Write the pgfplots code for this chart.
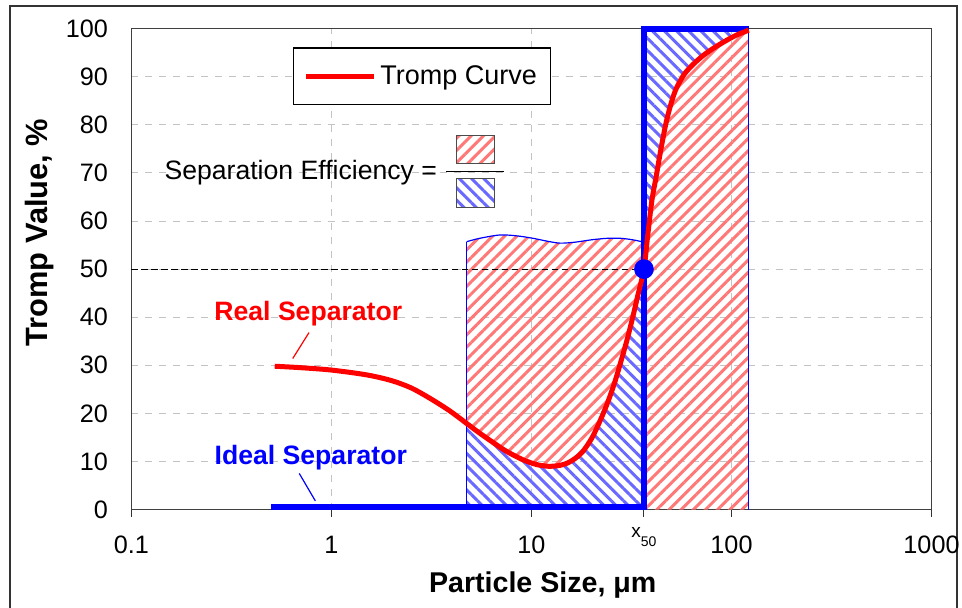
\documentclass[border=0pt]{standalone}
\usepackage{pgfplots}
\pgfplotsset{compat=1.18}
\usepackage{fontspec}
\setmainfont{Liberation Sans}
\usetikzlibrary{patterns.meta}
\definecolor{hatchred}{RGB}{255,120,120}
\definecolor{hatchblue}{RGB}{105,105,255}
\definecolor{gridgray}{RGB}{195,195,195}
\tikzset{
  redhatch/.style={pattern={Lines[angle=45,distance=4.3pt,line width=1.5pt]},pattern color=hatchred},
  bluehatch/.style={pattern={Lines[angle=-45,distance=4.3pt,line width=1.5pt]},pattern color=hatchblue},
}
\begin{document}
\begin{tikzpicture}
\useasboundingbox (0,0) rectangle (481pt,303.5pt);
\draw[line width=0.6pt, black!80] (5pt,-1pt) -- (5pt,300.5pt) -- (478.5pt,300.5pt) -- (478.5pt,-1pt);
\begin{axis}[
  at={(65.75pt,48.75pt)}, anchor=south west,
  scale only axis, width=400pt, height=240.4pt,
  xmode=log, log basis x=10,
  xmin=0.1, xmax=1000, ymin=0, ymax=100,
  clip=false,
  xtick={0.1,1,10,100,1000},
  xticklabels={0.1,1,10,100,1000},
  extra x ticks={36.5}, extra x tick labels={},
  ytick={0,10,...,100},
  xminorticks=false,
  grid=major,
  major grid style={gridgray, dash pattern=on 3.5pt off 3.5pt, line width=0.5pt},
  extra x tick style={grid=none},
  tick align=outside,
  major tick length=3.5pt,
  xtick pos=bottom, ytick pos=left,
  xtick style={black!80, line width=0.5pt},
  ytick style={draw=none},
  axis line style={black!75, line width=0.6pt},
  /pgf/number format/assume math mode=true,
  tick label style={font=\fontsize{12.6}{14}\selectfont},
  yticklabel style={xshift=-4.8pt},
  xticklabel style={yshift=-6.3pt},
  xlabel={Particle Size, μm},
  ylabel={Tromp Value, \%},
  xlabel style={at={(axis description cs:0.514,-0.1716)}, anchor=base, font=\fontsize{14.3}{16}\selectfont\bfseries},
  ylabel style={at={(axis description cs:-0.1044,0.576)}, anchor=base, font=\fontsize{15.4}{17}\selectfont\bfseries},
  legend style={at={(rel axis cs:0.2015,0.9613)}, anchor=north west, draw=black, line width=0.6pt,
    font=\fontsize{13.5}{16}\selectfont, inner xsep=5pt, inner ysep=6.75pt},
  legend image code/.code={\path (0pt,0pt) -- (34pt,0pt); \draw[red, line width=2.5pt] (3pt,0pt) -- (31.5pt,0pt);},
]
% hatched areas
\addplot[draw=none, redhatch, forget plot] coordinates {
  (4.74,55.7) (5.5,56.4) (6.96,57.1) (8.5,56.9) (10.2,56.4) (12,55.8) (13.9,55.4) (16.5,55.6) (20,56.1) (23.8,56.4) (28,56.4) (32,56.1) (35.6,55.7) (36.5,55.5)
  (36.5,50) (34,44.5) (32,39.8) (30,35.2) (28,30.8) (26,26.3) (24,22.2) (22,18.4) (20,14.8) (18,12.0) (16.5,10.6) (15,9.6) (13.5,9.1) (12,9.0) (10.5,9.4) (9,10.4) (7.5,12.1) (6.5,13.8) (5.5,15.9) (4.74,17.9)
} -- cycle;
\addplot[draw=none, bluehatch, forget plot] coordinates {
  (4.74,0) (4.74,17.9) (5.5,15.9) (6.5,13.8) (7.5,12.1) (9,10.4) (10.5,9.4) (12,9.0) (13.5,9.1) (15,9.6) (16.5,10.6) (18,12.0) (20,14.8) (22,18.4) (24,22.2) (26,26.3) (28,30.8) (30,35.2) (32,39.8) (34,44.5) (36.5,50) (36.5,0)
} -- cycle;
\addplot[draw=none, redhatch, forget plot] coordinates {
  (36.5,0) (36.5,50) (38,56.5) (40,64.3) (42,69.2) (44,74.1) (47,80.3) (50,84.6) (53,87.6) (58,90.5) (64,92.5) (72,94.4) (81,95.9) (92,97.3) (105,98.6) (122,99.7) (122,0)
} -- cycle;
\addplot[draw=none, bluehatch, forget plot] coordinates {
  (36.5,50) (38,56.5) (40,64.3) (42,69.2) (44,74.1) (47,80.3) (50,84.6) (53,87.6) (58,90.5) (64,92.5) (72,94.4) (81,95.9) (92,97.3) (105,98.6) (122,99.7) (122,100) (36.5,100)
} -- cycle;
% thin outlines
\addplot[blue, line width=0.6pt, smooth, forget plot] coordinates {
  (4.74,55.7) (5.5,56.4) (6.96,57.1) (8.5,56.9) (10.2,56.4) (12,55.8) (13.9,55.4) (16.5,55.6) (20,56.1) (23.8,56.4) (28,56.4) (32,56.1) (35.6,55.7) (36.5,55.5)
};
\addplot[blue, line width=0.6pt, forget plot] coordinates {(4.74,0) (4.74,55.7)};
\addplot[blue, line width=0.6pt, forget plot] coordinates {(122,0) (122,100)};
% dashed x50 guide
\addplot[black, line width=0.5pt, dash pattern=on 3.3pt off 1.7pt, forget plot] coordinates {(0.1,50) (36.5,50)};
% ideal separator
\addplot[blue, line width=3pt, line join=miter, forget plot] coordinates {(0.5,0.5) (36.5,0.5) (36.5,100) (122,100)};
% tromp curve
\addplot[red, line width=2.5pt, smooth] coordinates {
  (0.52,29.8) (0.7,29.5) (1,29.0) (1.5,28.0) (2,26.8) (2.5,25.3) (3,23.5) (3.5,21.8) (4,20.2) (4.74,17.9)
  (5.5,15.9) (6.5,13.8) (7.5,12.1) (9,10.4) (10.5,9.4) (12,9.0) (13.5,9.1) (15,9.6) (16.5,10.6) (18,12.0) (20,14.8) (22,18.4) (24,22.2) (26,26.3) (28,30.8) (30,35.2) (32,39.8) (34,44.5) (36.5,50)
  (38,56.5) (40,64.3) (42,69.2) (44,74.1) (47,80.3) (50,84.6) (53,87.6) (58,90.5) (64,92.5) (72,94.4) (81,95.9) (92,97.3) (105,98.6) (122,99.7)
};
\addlegendentry{Tromp Curve}
% x50 point
\addplot[only marks, mark=*, mark size=4.7pt, blue, forget plot] coordinates {(36.5,50)};
% annotations
\node[anchor=base, font=\fontsize{13.3}{16}\selectfont\bfseries, text=red, inner sep=0pt] at (axis cs:0.766,39.27) {Real Separator};
\node[anchor=base, font=\fontsize{13.3}{16}\selectfont\bfseries, text=blue, inner sep=0pt] at (axis cs:0.788,9.26) {Ideal Separator};
\draw[red, line width=0.6pt] (axis cs:0.772,36.8) -- (axis cs:0.64,31.4);
\draw[blue, line width=0.6pt] (axis cs:0.69,7.5) -- (axis cs:0.83,1.8);
\node[anchor=base, inner sep=0pt, font=\fontsize{9.5}{11}\selectfont] at (axis cs:36.5,0) [yshift=-14.2pt] {x\raisebox{-4.3pt}{\fontsize{7}{8}\selectfont 50}};
\end{axis}
% separation efficiency formula
\node[anchor=base east, inner sep=0pt, font=\fontsize{13.3}{16}\selectfont] at (218.65pt,213.85pt) {Separation Efficiency =};
\draw[black, line width=0.6pt] (223pt,217.65pt) -- (252pt,217.65pt);
\path[redhatch] (228pt,221.85pt) rectangle (247.15pt,236pt);
\draw[black!70, line width=0.5pt] (228pt,221.85pt) rectangle (247.15pt,236pt);
\path[bluehatch] (228pt,199.85pt) rectangle (247.15pt,214.35pt);
\draw[black!70, line width=0.5pt] (228pt,199.85pt) rectangle (247.15pt,214.35pt);
\end{tikzpicture}
\end{document}
